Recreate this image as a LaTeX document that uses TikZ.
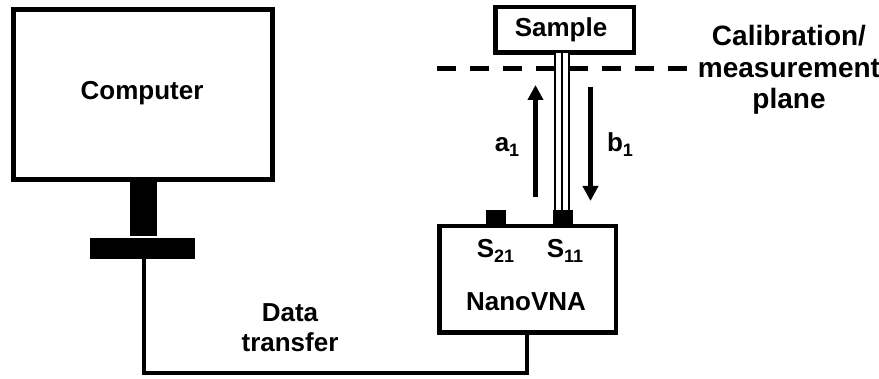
\documentclass[tikz,border=0pt]{standalone}
\usepackage{fontspec}
\setmainfont{Liberation Sans}
\usetikzlibrary{arrows.meta}
\newcommand{\mysub}[1]{\raisebox{-5pt}{\fontsize{18}{18}\selectfont #1}}
\begin{document}
\begin{tikzpicture}[x=1pt,y=-1pt,
  lbl/.style={font=\fontsize{26}{31}\selectfont\bfseries, inner sep=0pt, align=center},
  boxed/.style={draw, line width=4.5pt, fill=white, inner sep=0pt},
  solidblk/.style={fill=black, draw=none, inner sep=0pt},
  wire/.style={line width=4pt},
  wave/.style={line width=4.5pt, -{Triangle[length=15pt,width=15pt]}},
]
\useasboundingbox (0,0) rectangle (879,379);
% Computer
\node[boxed, minimum width=259pt, minimum height=170pt] (comp) at (143,94.5) {};
\node[lbl] (comptxt) at (142,93) {Computer};
\node[solidblk, minimum width=27pt, minimum height=56pt, anchor=north] (neck) at (143.5,180) {};
\node[solidblk, minimum width=105pt, minimum height=21pt, anchor=north] (base) at (142.5,238) {};
% NanoVNA
\node[boxed, minimum width=176.5pt, minimum height=106.5pt] (vna) at (527.5,279.5) {};
\node[solidblk, minimum width=20pt, minimum height=15pt] (p21) at (496,217.5) {};
\node[solidblk, minimum width=20pt, minimum height=15pt] (p11) at (563,217.5) {};
\node[lbl, anchor=base] (s21) at (495.5,258) {S\mysub{21}};
\node[lbl, anchor=base] (s11) at (565,258) {S\mysub{11}};
\node[lbl] (vnatxt) at (526,302) {NanoVNA};
% Sample
\node[boxed, minimum width=138.5pt, minimum height=45.5pt] (samp) at (564.5,30) {};
\node[lbl] (samptxt) at (561,30) {Sample};
% Calibration plane
\coordinate (planeL) at (437,68.5);
\coordinate (planeR) at (690,68.5);
\draw[line width=4.5pt, dash pattern=on 19pt off 14pt] (planeL) -- (planeR);
\node[lbl, font=\fontsize{28}{31.5}\selectfont\bfseries] (caltxt) at (789,70) {Calibration/\\measurement\\plane};
% Coax
\fill[white] (555,53) rectangle (569,210);
\draw[line width=1.4pt] (555,53) -- (555,210);
\draw[line width=1.4pt] (562,53) -- (562,210);
\draw[line width=1.4pt] (569,53) -- (569,210);
% Waves
\coordinate (a1s) at (535.5,197);
\coordinate (a1e) at (535.5,85);
\coordinate (b1s) at (590.5,87);
\coordinate (b1e) at (590.5,201);
\draw[wave] (a1s) -- (a1e);
\draw[wave] (b1s) -- (b1e);
\node[lbl, anchor=base] (a1) at (507,152) {a\mysub{1}};
\node[lbl, anchor=base] (b1) at (620,152) {b\mysub{1}};
% Data cable
\draw[wire] (base.south -| 144,0) -- (144,373) -- (527,373) -- (vna.south -| 527,0);
\node[lbl, font=\fontsize{26}{30}\selectfont\bfseries] (dt) at (290,328) {Data\\transfer};
\end{tikzpicture}
\end{document}
